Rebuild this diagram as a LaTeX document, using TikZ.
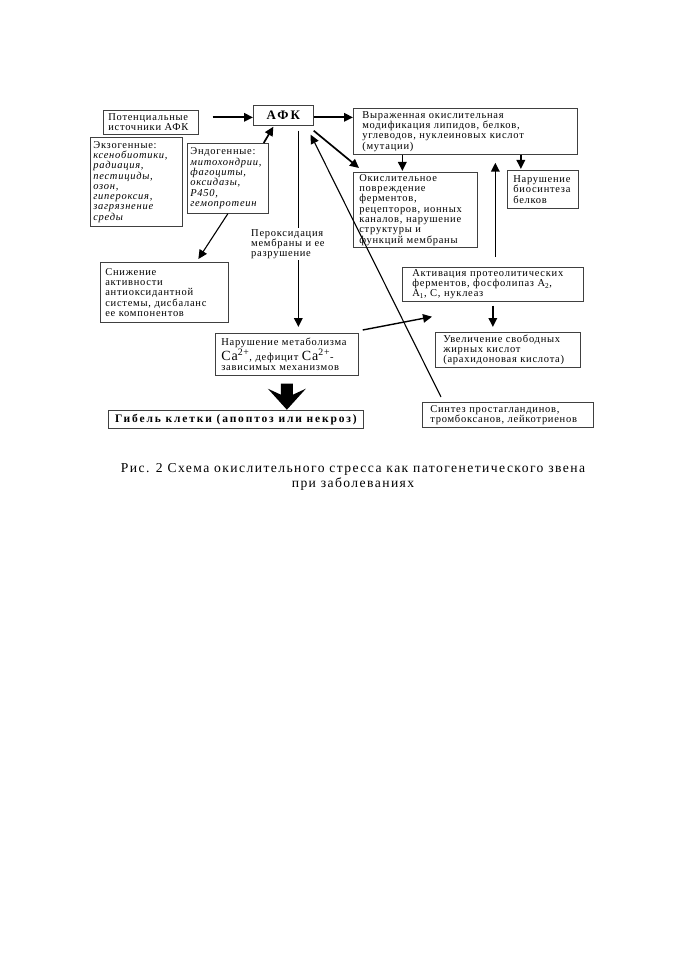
\documentclass[tikz,border=0pt]{standalone}
\usepackage{fontspec}
\setmainfont{Liberation Serif}
\newfontfamily\bxf[LetterSpace=7]{Liberation Serif}
\newfontfamily\bdf[LetterSpace=16]{Liberation Serif}
\newfontfamily\capf[LetterSpace=10.5]{Liberation Serif}
\usetikzlibrary{arrows.meta,calc}
\begin{document}
\begin{tikzpicture}[x=1pt,y=-1pt,
  box/.style={draw=black!75, line width=0.7pt, inner ysep=2pt,
    align=left, anchor=north west, font=\bxf\fontsize{10.5}{10.3}\selectfont},
  lbl/.style={inner sep=1pt, align=left, anchor=north west, font=\bxf\fontsize{10.5}{10.3}\selectfont},
  arr/.style={line width=1.7pt, -{Triangle[length=9pt,width=8.5pt]}},
  thin arr/.style={line width=1.1pt, -{Triangle[length=9pt,width=8.5pt]}},
  ln/.style={line width=1.7pt}]
\useasboundingbox (0,0) rectangle (678,960);
\fill[white] (0,0) rectangle (678,960);

% boxes
\node[box, inner xsep=5pt, text width=85pt, minimum height=24pt] (pot) at (103,110)
  {Потенциальные\\источники АФК};
\node[box, minimum width=60pt, minimum height=20pt, align=center,
  font=\bdf\bfseries\fontsize{13}{13}\selectfont] (afk) at (253,105) {АФК};
\node[box, inner xsep=3pt, text width=86pt, minimum height=89pt] (exo) at (90,137)
  {Экзогенные:\\\itshape ксенобиотики,\\\itshape радиация,\\\itshape пестициды,\\\itshape озон,\\\itshape гипероксия,\\\itshape загрязнение\\\itshape среды};
\node[box, inner xsep=3pt, text width=75pt, minimum height=70pt] (endo) at (187,143)
  {Эндогенные:\\\itshape митохондрии,\\\itshape фагоциты,\\\itshape оксидазы,\\\itshape Р450,\\\itshape гемопротеин};
\node[box, inner xsep=9pt, text width=206pt, minimum height=46pt] (vyr) at (353,108)
  {Выраженная окислительная\\модификация липидов, белков,\\углеводов, нуклеиновых кислот\\(мутации)};
\node[box, inner xsep=6pt, text width=112pt, minimum height=74pt] (okisl) at (353,172)
  {Окислительное\\повреждение\\ферментов,\\рецепторов, ионных\\каналов, нарушение\\структуры и\\функций мембраны};
\node[box, inner xsep=6pt, text width=59pt, minimum height=38pt] (bios) at (507,170)
  {Нарушение\\биосинтеза\\белков};
\node[box, inner xsep=5pt, text width=118pt, minimum height=60pt] (sniz) at (100,262)
  {Снижение\\активности\\антиоксидантной\\системы, дисбаланс\\ее компонентов};
\node[box, inner xsep=10pt, text width=161pt, minimum height=34pt] (akt) at (402,267)
  {Активация протеолитических\\ферментов, фосфолипаз A\textsubscript{2},\\A\textsubscript{1}, C, нуклеаз};
\node[box, inner xsep=8pt, text width=129pt, minimum height=35pt] (uvel) at (435,332)
  {Увеличение свободных\\жирных кислот\\(арахидоновая кислота)};
\node[box, inner xsep=6pt, text width=131pt, minimum height=42pt] (ca) at (215,333)
  {Нарушение метаболизма\\{\fontsize{14}{12}\selectfont Ca\textsuperscript{2+}}, дефицит {\fontsize{14}{12}\selectfont Ca\textsuperscript{2+}}-\\зависимых механизмов};
\node[box, minimum width=255pt, minimum height=18pt, align=center,
  font=\bdf\bfseries\fontsize{11.5}{11}\selectfont] (gib) at (108,410)
  {Гибель клетки (апоптоз или некроз)};
\node[box, inner xsep=8pt, text width=155pt, minimum height=25pt] (sint) at (422,402)
  {Синтез простагландинов,\\тромбоксанов, лейкотриенов};

% label
\node[lbl] (perox) at (250,228) {Пероксидация\\мембраны и ее\\разрушение};

% caption
\node[align=center, font=\capf\fontsize{13.6}{15}\selectfont] (cap) at (353,477)
  {Рис. 2 Схема окислительного стресса как патогенетического звена\\при заболеваниях};

% connectors
\draw[arr] ([xshift=14pt,yshift=5pt]pot.east) -- ([yshift=-2pt]afk.west);
\draw[arr] ([yshift=-2pt]afk.east) -- ([yshift=-2pt]afk.east -| vyr.west);
\draw[arr] ([xshift=-5pt]endo.north east) -- ([xshift=-10pt,yshift=-1pt]afk.south);
\draw[arr] ([yshift=-5pt]afk.south east) -- ([xshift=6pt,yshift=4pt]okisl.north west);
\draw[ln] ([xshift=15pt,yshift=-5pt]afk.south) -- ([xshift=15pt]afk.south |- perox.north);
\draw[arr, shorten >=6pt] ([xshift=15pt]afk.south |- perox.south) -- ([xshift=15pt]afk.south |- ca.north);
\draw[thin arr] ([xshift=19pt,yshift=5pt]sint.north west) -- ([xshift=-3pt,yshift=-9pt]afk.south east);
\draw[thin arr] (endo.south) -- ([xshift=34pt,yshift=3pt]sniz.north);
\draw[arr, shorten >=1pt] ([xshift=-13pt]okisl.north |- vyr.south) -- ([xshift=-13pt]okisl.north);
\draw[arr, shorten >=1pt] ([xshift=-22pt]bios.north |- vyr.south) -- ([xshift=-22pt]bios.north);
\draw[arr, shorten <=10pt, shorten >=8pt] ([xshift=2.5pt]akt.north) -- ([xshift=2.5pt]akt.north |- vyr.south);
\draw[arr, shorten <=4pt, shorten >=5pt] (akt.south) -- (akt.south |- uvel.north);
\coordinate (lipT) at ($(akt.south west)+(30,15)$);
\draw[thin arr, line width=1.4pt] ([xshift=4pt,yshift=3pt]ca.north east) -- (lipT);

% thick arrow to cell death
\fill ($(ca.south)+(-6,8)$) -- ($(ca.south)+(6,8)$) -- ($(ca.south)+(6,19)$)
  -- ($(ca.south)+(19,13)$) -- ($(ca.south)+(0,34)$) -- ($(ca.south)+(-19,13)$)
  -- ($(ca.south)+(-6,19)$) -- cycle;
\end{tikzpicture}
\end{document}
